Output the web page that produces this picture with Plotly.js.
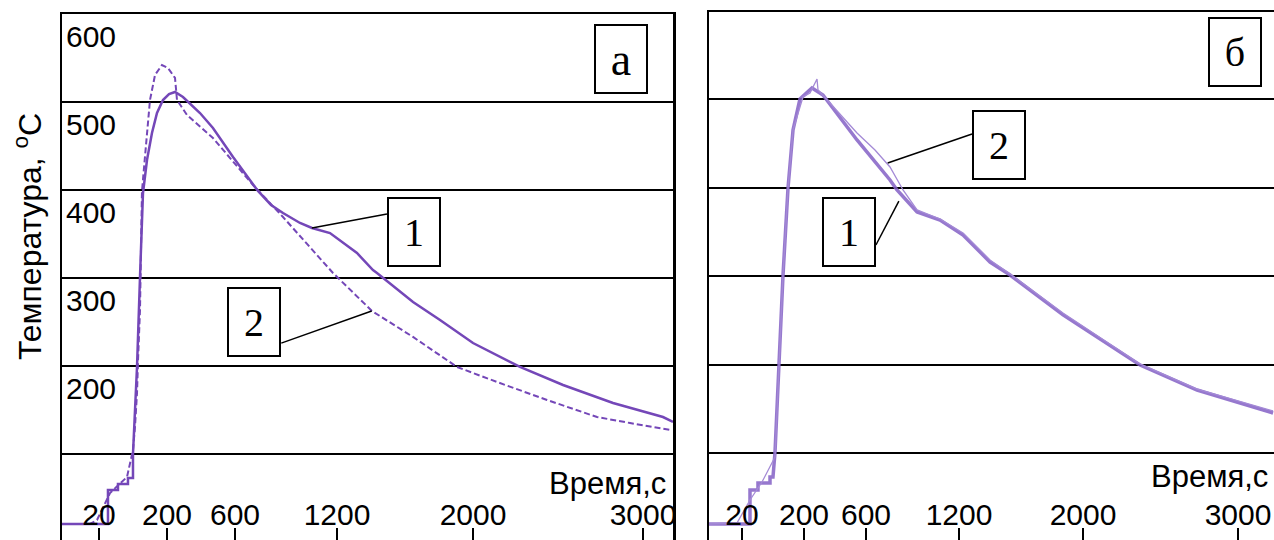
<!DOCTYPE html>
<html>
<head>
<meta charset="utf-8">
<script src="https://cdn.plot.ly/plotly-3.0.1.min.js"></script>
<style>html,body{margin:0;padding:0;background:#fff;}#chart{width:1274px;height:540px;}</style>
</head>
<body>
<div id="chart"></div>
<script>
// Time axis: non-uniform scale; positions in scale units, labels in seconds
const tickPos = [1, 2, 3, 4.5, 6.5, 9];
const tickLabels = ['20', '200', '600', '1200', '2000', '3000'];
const yTickVals = [100, 200, 300, 400, 500, 600];
const yTickText = ['', '200', '300', '400', '500', '600'];

// Panel a, curve 1 (solid)
const a1x = [0.456, 1.132, 1.132, 1.279, 1.279, 1.426, 1.426, 1.5, 1.5, 1.559, 1.603, 1.647, 1.706, 1.779, 1.853, 1.941, 2.03, 2.118, 2.235, 2.485, 2.676, 2.971, 3.338, 3.53, 3.706, 3.956, 4.132, 4.397, 4.794, 5.029, 5.088, 5.618, 6.015, 6.5, 7.191, 7.824, 8.559, 9.294, 9.441];
const a1y = [20.5, 20.5, 59.1, 59.1, 65.9, 65.9, 72.7, 72.7, 100, 198.9, 301, 396.6, 434.1, 464.8, 487.5, 502.3, 509, 511.4, 505.7, 487.5, 470.5, 437.5, 398.9, 383, 373.9, 362.5, 356.8, 351.1, 328.4, 309, 305.7, 272.7, 252.3, 226.1, 198.9, 178.4, 158, 142, 136.4];
// Panel a, curve 2 (dashed)
const a2x = [0.456, 0.868, 0.971, 1.162, 1.412, 1.5, 1.529, 1.559, 1.574, 1.603, 1.632, 1.706, 1.75, 1.824, 1.926, 2.015, 2.118, 2.147, 2.294, 2.676, 3.265, 3.706, 4.441, 5.015, 5.618, 6.265, 6.853, 7.588, 8.324, 8.809, 9.397];
const a2y = [20.5, 20.5, 25, 55.7, 73.9, 104.5, 130.7, 169.3, 206.8, 263.6, 398.9, 464.8, 502.3, 530.7, 542, 538.6, 527.3, 502.3, 485.2, 459.1, 405.7, 369.3, 305.7, 262.5, 233, 198.9, 181.8, 161.4, 142, 135.2, 127.3];
// Panel б, curve 1 (thick)
const b1x = [0.468, 1.129, 1.129, 1.258, 1.258, 1.452, 1.452, 1.5, 1.532, 1.597, 1.661, 1.742, 1.823, 1.935, 2.129, 2.306, 2.855, 3.387, 3.5, 3.823, 4.194, 4.565, 5, 5.323, 6.177, 7.419, 8.339, 9.565];
const b1y = [19.8, 19.8, 58.2, 58.2, 66.1, 66.1, 72.9, 72.9, 100, 200.6, 300, 399.4, 465, 500, 512.4, 504.5, 453.7, 408.5, 397.2, 372.3, 363.3, 346.3, 315.8, 301.1, 256, 199.4, 171.2, 145.2];
// Panel б, curve 2 (thin)
const b2x = [0.468, 0.919, 1.129, 1.323, 1.532, 1.597, 1.661, 1.742, 1.823, 1.984, 2.097, 2.21, 2.226, 2.419, 2.855, 3.145, 3.387, 3.597, 3.823, 4.194, 4.565, 5, 5.323, 6.177, 7.419, 8.339, 9.565];
const b2y = [19.8, 20.9, 46.9, 67.2, 95.5, 200.6, 300, 399.4, 465, 502.3, 506.8, 522.6, 510.2, 495.5, 461.6, 442.4, 423.2, 397.2, 374.6, 364.4, 348.6, 318.1, 302.3, 258.2, 200.6, 172.3, 147.5];

const purple = '#7447b8';
const sans = 'Liberation Sans, Arial, sans-serif';
const serif = 'Liberation Serif, Times New Roman, serif';

const traces = [
  {x: a1x, y: a1y, xaxis: 'x', yaxis: 'y', mode: 'lines', line: {color: purple, width: 2.5}},
  {x: a2x, y: a2y, xaxis: 'x', yaxis: 'y', mode: 'lines', line: {color: purple, width: 2, dash: '6px,3px'}},
  {x: b1x, y: b1y, xaxis: 'x2', yaxis: 'y2', mode: 'lines', line: {color: 'rgba(132,96,198,0.85)', width: 3.5}},
  {x: b2x, y: b2y, xaxis: 'x2', yaxis: 'y2', mode: 'lines', line: {color: '#a48ad6', width: 1.3}}
];

function xAxis(domain, range, anchor) {
  return {
    domain: domain, range: range, anchor: anchor,
    tickmode: 'array', tickvals: tickPos, ticktext: tickLabels,
    ticks: 'inside', ticklen: 12, tickwidth: 1.5, tickcolor: '#000',
    ticklabelposition: 'inside', ticklabeloverflow: 'allow',
    tickfont: {family: sans, size: 30, color: '#000'},
    showgrid: false, zeroline: false,
    showline: true, linecolor: '#000', linewidth: 2, mirror: true
  };
}

function box(ref, x, y, text, size) {
  return {xref: ref + ' domain', yref: (ref === 'x' ? 'y' : 'y2') + ' domain', x: x, y: y,
    xanchor: 'center', yanchor: 'middle', showarrow: false, text: text,
    font: {family: serif, size: size, color: '#000'}, bordercolor: '#000', borderwidth: 2,
    borderpad: 0, width: 50, height: 66, bgcolor: '#fff'};
}

const layout = {
  width: 1274, height: 540,
  margin: {l: 0, r: 0, t: 0, b: 0},
  paper_bgcolor: '#fff', plot_bgcolor: '#fff',
  showlegend: false,
  xaxis: xAxis([62/1274, 673/1274], [0.456, 9.441], 'y'),
  yaxis: {
    domain: [0, 1 - 14/540], range: [2.27, 600], anchor: 'x',
    tickmode: 'array', tickvals: yTickVals, ticktext: yTickText,
    ticks: '', ticklabelposition: 'inside', ticklabelshift: 22, ticklabelstandoff: 7,
    ticklabeloverflow: 'allow',
    tickfont: {family: sans, size: 30, color: '#000'},
    showgrid: true, gridcolor: '#000', gridwidth: 2, zeroline: false,
    showline: true, linecolor: '#000', linewidth: 2.5, mirror: true,
    automargin: false
  },
  xaxis2: xAxis([709/1274, 1], [0.468, 9.58], 'y2'),
  yaxis2: {
    domain: [0, 1 - 12/540], range: [1.7, 598.3], anchor: 'x2',
    tickmode: 'array', tickvals: yTickVals, showticklabels: false, ticks: '',
    showgrid: true, gridcolor: '#000', gridwidth: 2, zeroline: false,
    showline: true, linecolor: '#000', linewidth: 2.5, mirror: false
  },
  annotations: [
    {xref: 'paper', yref: 'paper', x: 28/1274, y: 1 - 237/540, xanchor: 'center', yanchor: 'middle', showarrow: false,
     textangle: -90, text: 'Температура, <sup>o</sup>C', font: {family: sans, size: 32, color: '#000'}},
    {xref: 'x domain', yref: 'y domain', x: 0.992, y: 0.108, xanchor: 'right', yanchor: 'middle', showarrow: false,
     text: 'Время,с', font: {family: sans, size: 31, color: '#000'}},
    {xref: 'x2 domain', yref: 'y2 domain', x: 0.993, y: 0.121, xanchor: 'right', yanchor: 'middle', showarrow: false,
     text: 'Время,с', font: {family: sans, size: 31, color: '#000'}},
    box('x', 0.915, 0.914, 'а', 46),
    box('x', 0.576, 0.5856, '1', 40),
    box('x', 0.314, 0.4144, '2', 40),
    box('x2', 0.931, 0.924, 'б', 40),
    box('x2', 0.2478, 0.583, '1', 40),
    box('x2', 0.513, 0.748, '2', 40)
  ],
  shapes: [
    {type: 'line', xref: 'x', yref: 'y', x0: 5.235, y0: 372.7, x1: 4.13, y1: 356.8, line: {color: '#000', width: 1.5}},
    {type: 'line', xref: 'x', yref: 'y', x0: 3.68, y0: 226, x1: 5.01, y1: 262.5, line: {color: '#000', width: 1.5}},
    {type: 'line', xref: 'x2', yref: 'y2', x0: 3.16, y0: 335, x1: 3.53, y1: 384.7, line: {color: '#000', width: 1.5}},
    {type: 'line', xref: 'x2', yref: 'y2', x0: 4.71, y0: 460.5, x1: 3.35, y1: 427.7, line: {color: '#000', width: 1.5}}
  ]
};

Plotly.newPlot('chart', traces, layout, {staticPlot: true, displayModeBar: false});
</script>
</body>
</html>
